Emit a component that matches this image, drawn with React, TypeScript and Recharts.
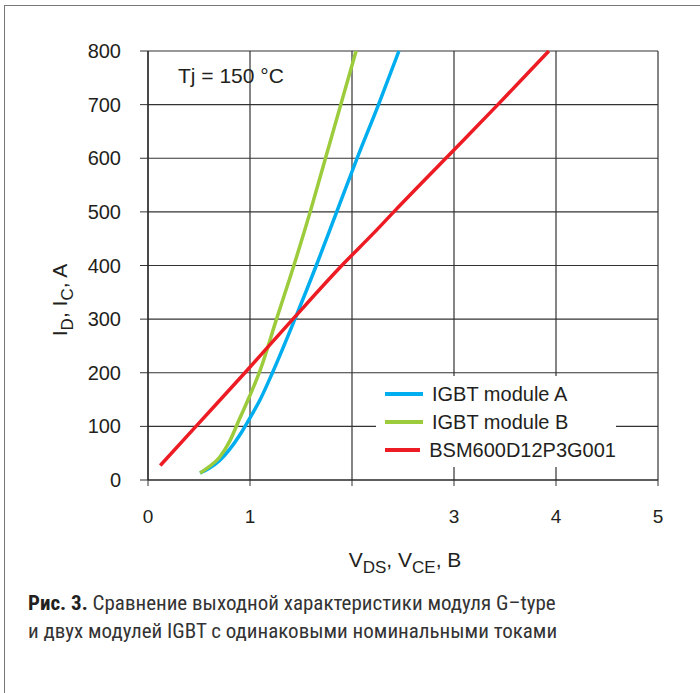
import { LineChart, Line, XAxis, YAxis, CartesianGrid, Legend } from 'recharts'

// V (x) and I (y)
const moduleAV = [0.51, 0.6, 0.7, 0.8, 0.9, 1.0, 1.1, 1.22, 1.44, 1.65, 1.85, 2.05, 2.26, 2.46]
const moduleAI = [13, 22, 36, 57, 84, 116, 150, 200, 300, 400, 500, 600, 700, 800]

const moduleBV = [0.51, 0.6, 0.7, 0.8, 0.9, 1.0, 1.1, 1.26, 1.43, 1.59, 1.74, 1.89, 2.04]
const moduleBI = [13, 25, 42, 72, 115, 158, 205, 300, 400, 500, 600, 700, 800]

const bsmV = [0.12, 0.47, 0.95, 1.42, 1.9, 2.2, 2.41, 2.92, 3.43, 3.93]
const bsmI = [27, 100, 200, 300, 400, 458, 500, 600, 700, 800]

const xTicks = [0, 1, 2, 3, 4, 5]
const xTickLabels = ['0', '1', '', '3', '4', '5']
const yTicks = [0, 100, 200, 300, 400, 500, 600, 700, 800]

const toPoints = (v: number[], i: number[]) => v.map((x, k) => ({ v: x, i: i[k] }))

const series = [
  { name: 'IGBT module A', color: '#00AEEF', data: toPoints(moduleAV, moduleAI) },
  { name: 'IGBT module B', color: '#9CCB3B', data: toPoints(moduleBV, moduleBI) },
  { name: 'BSM600D12P3G001', color: '#ED1C24', data: toPoints(bsmV, bsmI) },
]

const font = "'Liberation Sans', Arial, Helvetica, sans-serif"
const ink = '#231F20'

function LegendBox() {
  return (
    <div style={{ background: '#fff', width: 240, height: 91, boxSizing: 'border-box', padding: '4px 0 0 9px', fontFamily: font }}>
      {series.map(s => (
        <div key={s.name} style={{ display: 'flex', alignItems: 'center', height: 28 }}>
          <span style={{ display: 'inline-block', width: 38, height: 4, background: s.color, marginRight: 9 }} />
          <span style={{ fontSize: 20, color: ink, lineHeight: '28px' }}>{s.name}</span>
        </div>
      ))}
    </div>
  )
}

function XTitle() {
  return (
    <text x={405} y={567} textAnchor="middle" fontSize={21} fill={ink} fontFamily={font}>
      <tspan>V</tspan>
      <tspan fontSize={17} dy={6}>DS</tspan>
      <tspan dy={-6}>, V</tspan>
      <tspan fontSize={17} dy={6}>CE</tspan>
      <tspan dy={-6}>, В</tspan>
    </text>
  )
}

function YTitle() {
  return (
    <text x={67} y={300} textAnchor="middle" fontSize={21} fill={ink} fontFamily={font} transform="rotate(-90 67 300)">
      <tspan>I</tspan>
      <tspan fontSize={17} dy={6}>D</tspan>
      <tspan dy={-6}>, I</tspan>
      <tspan fontSize={17} dy={6}>C</tspan>
      <tspan dy={-6}>, A</tspan>
    </text>
  )
}

export default function App() {
  return (
    <div style={{ position: 'absolute', left: 0, top: 0, width: 700, height: 693, background: '#fff' }}>
      <div style={{ position: 'absolute', left: 4, top: 5, width: 696, height: 688, borderTop: '1.5px solid #777', borderLeft: '1.5px solid #777' }} />
      <LineChart
        width={700}
        height={693}
        margin={{ top: 51, right: 42, bottom: 173, left: 88 }}
        style={{ position: 'absolute', left: 0, top: 0 }}
      >
        <CartesianGrid stroke="#333" strokeWidth={1.2} />
        <XAxis
          type="number"
          dataKey="v"
          domain={[0, 5]}
          ticks={xTicks}
          interval={0}
          height={40}
          tickFormatter={(v) => xTickLabels[xTicks.indexOf(v)]}
          tick={{ fill: ink, fontSize: 19, fontFamily: font }}
          tickSize={6}
          tickMargin={24}
          axisLine={{ stroke: '#222', strokeWidth: 1.2 }}
          tickLine={{ stroke: '#333' }}
          label={{ content: () => <XTitle /> }}
        />
        <YAxis
          type="number"
          dataKey="i"
          domain={[0, 800]}
          ticks={yTicks}
          interval={0}
          width={60}
          tick={{ fill: ink, fontSize: 20, fontFamily: font }}
          tickSize={8}
          tickMargin={19}
          axisLine={{ stroke: '#222', strokeWidth: 1.2 }}
          tickLine={{ stroke: '#333' }}
          label={{ content: () => <YTitle /> }}
        />
        {series.map(s => (
          <Line
            key={s.name}
            data={s.data}
            dataKey="i"
            name={s.name}
            type="monotone"
            stroke={s.color}
            strokeWidth={3.5}
            dot={false}
            isAnimationActive={false}
          />
        ))}
        <Legend
          layout="vertical"
          align="center"
          verticalAlign="middle"
          content={() => <LegendBox />}
          wrapperStyle={{ left: 376, top: 376, width: 240, height: 91 }}
        />
      </LineChart>
      <div style={{ position: 'absolute', left: 28, top: 64, fontSize: 21, color: ink, fontFamily: font, paddingLeft: 150 }}>
        Tj = 150 °C
      </div>
      <div style={{ position: 'absolute', left: 28, top: 589, fontSize: 21, lineHeight: '28px', color: '#333', fontFamily: "'Liberation Sans Narrow', 'Roboto Condensed', 'DejaVu Sans Condensed', Roboto, sans-serif" }}>
        <div><b style={{ color: ink }}>Рис. 3.</b> Сравнение выходной характеристики модуля G–type</div>
        <div>и двух модулей IGBT с одинаковыми номинальными токами</div>
      </div>
    </div>
  )
}
